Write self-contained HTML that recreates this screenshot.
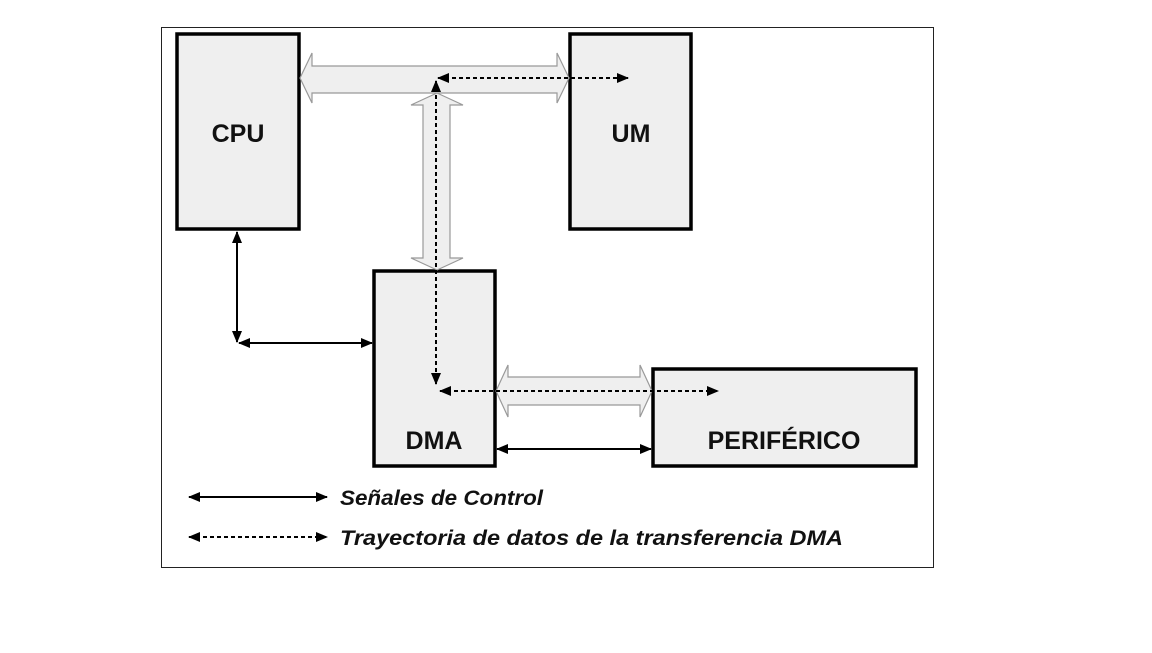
<!DOCTYPE html>
<html><head><style>body{margin:0;background:#fff}</style></head><body>
<svg width="1152" height="648" viewBox="0 0 1152 648" xmlns="http://www.w3.org/2000/svg" font-family="Liberation Sans, sans-serif">
<defs>
<marker id="a" markerWidth="12" markerHeight="10" refX="11" refY="5" orient="auto-start-reverse" markerUnits="userSpaceOnUse"><path d="M0,0 L12,5 L0,10 Z" fill="#000"/></marker>
</defs>
<rect x="161.5" y="27.5" width="772" height="540" fill="#fff" stroke="#222" stroke-width="1"/>
<g fill="#efefef" stroke="#000" stroke-width="3.5">
<rect x="177" y="34" width="122" height="195"/>
<rect x="570" y="34" width="121" height="195"/>
<rect x="374" y="271" width="121" height="195"/>
<rect x="653" y="369" width="263" height="97"/>
</g>
<g fill="#efefef" stroke="#999" stroke-width="1.2">
<path d="M300,78 L312,53 L312,66 L557,66 L557,53 L569,78 L557,103 L557,93 L312,93 L312,103 Z"/>
<path d="M437,93 L463,105 L450,105 L450,258 L463,258 L437,270 L411,258 L423,258 L423,105 L411,105 Z"/>
<path d="M496,391 L508,365 L508,377 L640,377 L640,365 L652,391 L640,417 L640,405 L508,405 L508,417 Z"/>
</g>
<g stroke="#000" stroke-width="2" fill="none" stroke-dasharray="4,3">
<line x1="438" y1="78" x2="628" y2="78" marker-start="url(#a)" marker-end="url(#a)"/>
<line x1="436" y1="81" x2="436" y2="384" marker-start="url(#a)" marker-end="url(#a)"/>
<line x1="440" y1="391" x2="718" y2="391" marker-start="url(#a)" marker-end="url(#a)"/>
<line x1="189" y1="537" x2="327" y2="537" marker-start="url(#a)" marker-end="url(#a)"/>
</g>
<g stroke="#000" stroke-width="2" fill="none">
<line x1="237" y1="232" x2="237" y2="342" marker-start="url(#a)" marker-end="url(#a)"/>
<line x1="239" y1="343" x2="372" y2="343" marker-start="url(#a)" marker-end="url(#a)"/>
<line x1="497" y1="449" x2="651" y2="449" marker-start="url(#a)" marker-end="url(#a)"/>
<line x1="189" y1="497" x2="327" y2="497" marker-start="url(#a)" marker-end="url(#a)"/>
</g>
<g font-weight="bold" font-size="25" text-anchor="middle" fill="#111">
<text x="238" y="142">CPU</text>
<text x="631" y="142">UM</text>
<text x="434" y="449">DMA</text>
<text x="784" y="449">PERIFÉRICO</text>
</g>
<g font-weight="bold" font-style="italic" font-size="21" fill="#111">
<text x="340" y="505" textLength="203" lengthAdjust="spacingAndGlyphs">Señales de Control</text>
<text x="340" y="545" textLength="503" lengthAdjust="spacingAndGlyphs">Trayectoria de datos de la transferencia DMA</text>
</g>
</svg>
</body></html>
